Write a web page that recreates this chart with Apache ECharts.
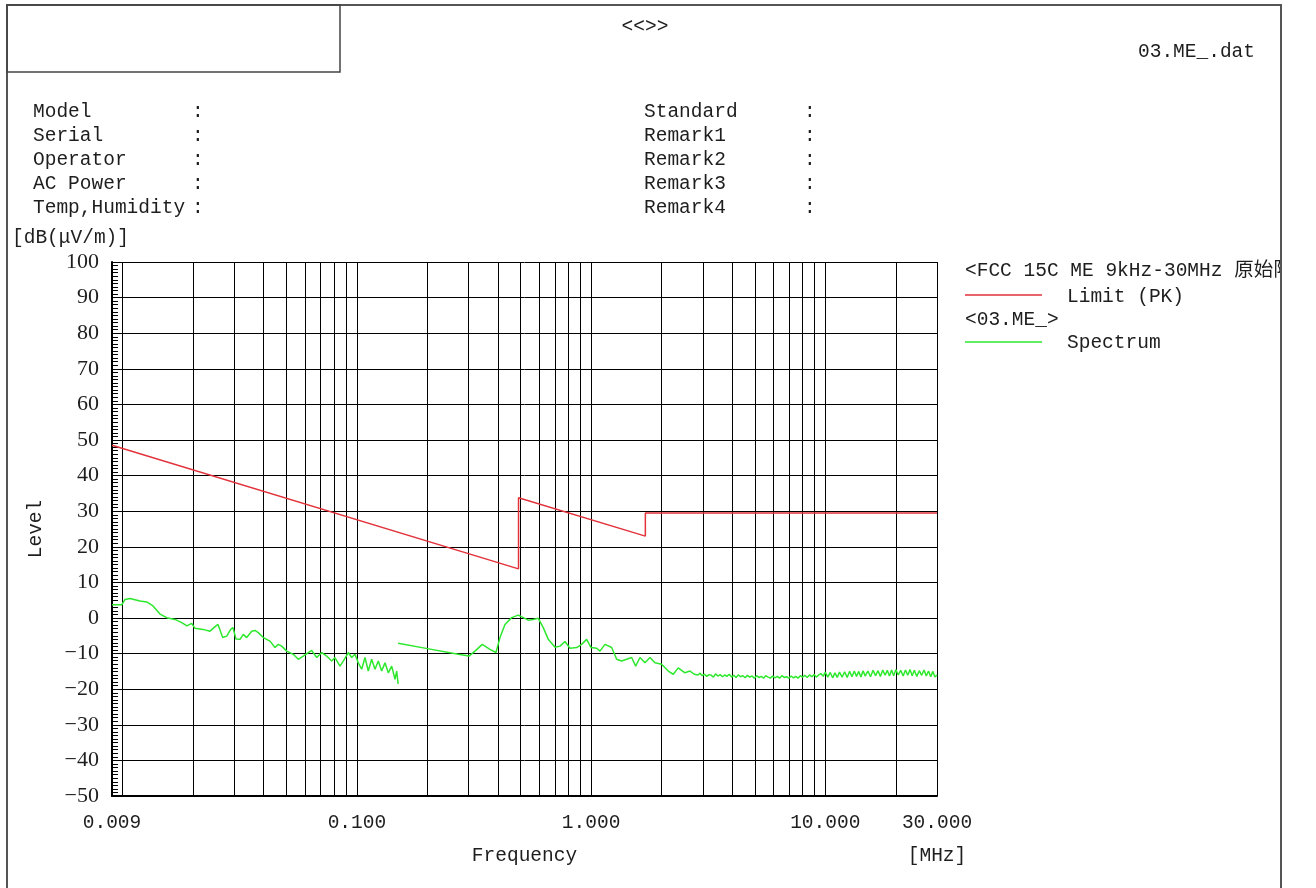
<!DOCTYPE html>
<html><head><meta charset="utf-8">
<script src="https://cdn.jsdelivr.net/npm/echarts@6/dist/echarts.min.js"></script>
<style>html,body{margin:0;padding:0;background:#fff}#c{width:1316px;height:888px}</style>
</head><body><div id="c"></div>
<script>
// ---- axis definitions ----
const xMin = 0.009, xMax = 30;
const yMin = -50, yMax = 100, yInterval = 10;
const xGridValues = [0.01,0.02,0.03,0.04,0.05,0.06,0.07,0.08,0.09,
  0.1,0.2,0.3,0.4,0.5,0.6,0.7,0.8,0.9,
  1,2,3,4,5,6,7,8,9,10,20,30];
const xLabelValues = [0.009, 0.1, 1, 10, 30];

// ---- Limit (PK) ----
const limitFreq  = [0.009, 0.49, 0.49, 1.705, 1.705, 30];
const limitLevel = [48.5, 13.8, 33.8, 23.0, 29.5, 29.5];

// ---- Spectrum, 9 kHz - 150 kHz ----
const specAFreq = [0.009,0.0099,0.01023,0.01074,0.01185,0.01266,0.01347,0.01443,0.01541,0.01672,
  0.01786,0.01881,0.0197,0.02035,0.02202,0.02359,0.02502,0.02552,0.02673,0.0278,
  0.02891,0.02957,0.03047,0.03168,0.03273,0.03384,0.03555,0.03672,0.03793,0.03983,
  0.04255,0.04469,0.04617,0.04774,0.05014,0.0535,0.0562,0.05903,0.062,0.06411,
  0.06734,0.07072,0.07429,0.07803,0.0806,0.08467,0.08747,0.09188,0.095,0.09814,
  0.10138,0.10481,0.10827,0.11184,0.11563,0.11947,0.12341,0.1276,0.13181,0.13616,
  0.14079,0.14543,0.14787,0.15];
const specALevel = [3.7,3.7,5.2,5.5,4.8,4.5,3.4,1.1,0.1,-0.4,
  -1.3,-2.2,-1.5,-2.9,-3.2,-3.7,-2.2,-1.8,-5.5,-5.1,
  -3.2,-2.7,-5.9,-6.0,-4.6,-5.5,-3.7,-3.5,-4.1,-5.5,
  -6.5,-8.3,-7.4,-7.9,-9.3,-10.2,-11.6,-10.7,-9.7,-9.1,
  -11.1,-9.7,-10.7,-12.1,-11.1,-13.5,-12.1,-9.7,-11.1,-10.2,
  -12.6,-14.4,-11.1,-14.9,-11.6,-14.4,-12.1,-14.9,-12.6,-15.4,
  -13.5,-17.2,-14.9,-18.5];

// ---- Spectrum, 150 kHz - 30 MHz ----
const specBFreq = [0.15,0.2,0.271,0.301,0.3193,0.3431,0.37,0.3925,0.4083,0.4289,
  0.458,0.4887,0.5134,0.5393,0.5664,0.5949,0.6249,0.6565,0.7011,0.7366,
  0.7737,0.8126,0.8679,0.9114,0.9574,1.0,1.0564,1.0913,1.1462,1.2245,
  1.286,1.351,1.419,1.4906,1.5504,1.6174,1.6984,1.7843,1.8739,2.0015,
  2.1357,2.2434,2.3564,2.5164,2.6438,2.7582,
  2.80,2.86,2.92,2.98,3.05,3.12,3.19,3.26,3.33,3.40,
  3.48,3.56,3.64,3.72,3.80,3.89,3.98,4.07,4.16,4.25,
  4.35,4.45,4.55,4.65,4.76,4.87,4.98,5.09,5.21,5.33,
  5.45,5.57,5.70,5.83,5.96,6.10,6.24,6.38,6.53,6.68,
  6.83,6.99,7.15,7.31,7.48,7.65,7.82,8.00,8.18,8.37,
  8.56,8.76,8.96,9.16,9.37,9.58,9.80,
  10.0,10.25,10.5,10.75,11.0,11.25,11.5,11.8,12.1,12.4,
  12.7,13.0,13.3,13.6,13.9,14.2,14.5,14.8,15.2,15.6,
  16.0,16.4,16.8,17.2,17.6,18.0,18.4,18.8,19.2,19.6,
  20.0,20.5,21.0,21.5,22.0,22.5,23.0,23.5,24.0,24.6,
  25.2,25.8,26.4,27.0,27.6,28.2,28.8,29.4,30.0];
const specBLevel = [-7.1,-8.6,-10.2,-10.7,-9.3,-7.4,-8.8,-9.7,-5.5,-1.8,
  0.1,0.8,0.1,-0.6,-0.4,-0.1,-2.7,-6.0,-8.2,-7.9,
  -6.6,-8.5,-8.3,-7.4,-6.0,-8.3,-8.5,-9.3,-7.4,-8.3,
  -11.6,-12.1,-11.6,-11.1,-13.5,-11.1,-12.6,-11.1,-12.6,-13.0,
  -14.9,-15.8,-14.0,-15.4,-14.9,-15.8,
  -15.6,-16.0,-15.5,-16.2,-15.8,-16.4,-15.9,-16.1,-16.6,-15.7,
  -16.3,-15.9,-16.5,-16.0,-16.4,-15.8,-16.6,-16.1,-16.7,-16.0,
  -16.5,-16.2,-16.8,-16.1,-16.6,-16.3,-16.9,-16.2,-16.7,-16.4,
  -16.9,-16.2,-16.6,-16.9,-16.3,-16.8,-16.4,-16.9,-16.2,-16.7,
  -16.5,-16.9,-16.3,-16.8,-16.4,-16.9,-16.2,-16.6,-16.1,-16.7,
  -16.0,-16.5,-15.9,-16.6,-16.0,-15.6,-16.4,
  -15.2,-16.6,-15.3,-16.8,-15.4,-16.7,-15.2,-16.6,-15.1,-16.7,
  -15.0,-16.5,-14.9,-16.4,-15.0,-16.6,-14.8,-16.3,-14.9,-16.5,
  -14.7,-16.2,-14.8,-16.4,-14.6,-16.1,-14.7,-16.3,-14.6,-16.2,
  -14.5,-16.0,-14.7,-16.3,-14.6,-16.1,-14.5,-16.2,-14.7,-16.4,
  -14.8,-16.1,-14.6,-16.3,-14.9,-16.5,-15.0,-16.6,-16.0];

// ---- texts ----
const infoLeft  = ['Model','Serial','Operator','AC Power','Temp,Humidity'];
const infoRight = ['Standard','Remark1','Remark2','Remark3','Remark4'];
const titleText = '<<>>';
const fileText = '03.ME_.dat';
const unitY = '[dB(μV/m)]';
const unitX = '[MHz]';
const legendLimitHead = '<FCC 15C ME 9kHz-30MHz 原始限值>';
const legendLimitName = 'Limit (PK)';
const legendSpecHead = '<03.ME_>';
const legendSpecName = 'Spectrum';

const MONO = '"Liberation Mono","Noto Sans CJK SC",monospace';
const SERIF = '"Liberation Serif","DejaVu Serif",serif';
const TXT = '#1e1e1e';
const RED = '#e2323a';
const GREEN = '#2ee82e';
const FS = 19.5;

const pair = (xs, ys) => xs.map((x, i) => [x, ys[i]]);

function txt(x, y, text, opts) {
  opts = opts || {};
  return {
    type: 'text', z: 100,
    x: x, y: y, rotation: opts.rotation || 0,
    style: {
      x: 0, y: 0, text: text,
      font: (opts.size || FS) + 'px ' + (opts.family || MONO),
      fill: opts.fill || TXT,
      align: opts.align || 'left', textAlign: opts.align || 'left',
      verticalAlign: 'middle', textVerticalAlign: 'middle'
    }
  };
}

const rowsY = [112, 136, 160, 184, 208];
const graphics = [];
infoLeft.forEach((t, i) => { graphics.push(txt(33, rowsY[i], t)); graphics.push(txt(192, rowsY[i], ':')); });
infoRight.forEach((t, i) => { graphics.push(txt(644, rowsY[i], t)); graphics.push(txt(804, rowsY[i], ':')); });
graphics.push(txt(645, 27, titleText, {align: 'center'}));
graphics.push(txt(1255, 52, fileText, {align: 'right'}));
graphics.push(txt(12, 238, unitY));
graphics.push(txt(937, 856, unitX, {align: 'center'}));
graphics.push(txt(965, 271, legendLimitHead));
graphics.push(txt(1067, 297, legendLimitName));
graphics.push(txt(965, 320, legendSpecHead));
graphics.push(txt(1067, 343, legendSpecName));
graphics.push({type: 'line', z: 100, shape: {x1: 965, y1: 295, x2: 1042, y2: 295}, style: {stroke: RED, lineWidth: 1.5}});
graphics.push({type: 'line', z: 100, shape: {x1: 965, y1: 342, x2: 1042, y2: 342}, style: {stroke: GREEN, lineWidth: 1.5}});
// white mask right of the frame (clips legend text)
graphics.push({type: 'rect', z: 110, shape: {x: 1282, y: 0, width: 40, height: 888}, style: {fill: '#fff'}});
// outer frame and title box
graphics.push({type: 'rect', z: 120, shape: {x: 7, y: 5, width: 1274, height: 900}, style: {fill: 'none', stroke: '#555', lineWidth: 2}});
graphics.push({type: 'rect', z: 120, shape: {x: 7, y: 5, width: 333, height: 67}, style: {fill: 'none', stroke: '#444', lineWidth: 1.5}});

const chart = echarts.init(document.getElementById('c'), null, {renderer: 'canvas'});
chart.setOption({
  animation: false,
  backgroundColor: '#fff',
  grid: {left: 112, top: 262, right: 379, bottom: 92, containLabel: false},
  xAxis: {
    type: 'log', logBase: 10, min: xMin, max: xMax,
    name: 'Frequency', nameLocation: 'middle', nameGap: 50,
    nameTextStyle: {fontFamily: MONO, fontSize: FS, color: TXT},
    axisLine: {show: true, onZero: false, lineStyle: {color: '#000', width: 2}},
    axisTick: {show: false, customValues: xGridValues},
    axisLabel: {
      customValues: xLabelValues, margin: 17,
      fontFamily: MONO, fontSize: FS, color: TXT,
      formatter: v => Number(v).toFixed(3)
    },
    splitLine: {show: true, lineStyle: {color: '#000', width: 1}},
    minorTick: {show: false}, minorSplitLine: {show: false}
  },
  yAxis: {
    type: 'value', min: yMin, max: yMax, interval: yInterval,
    name: 'Level', nameLocation: 'middle', nameGap: 66, nameRotate: 90,
    nameTextStyle: {fontFamily: MONO, fontSize: FS, color: TXT},
    axisLine: {show: true, onZero: false, lineStyle: {color: '#000', width: 2}},
    axisTick: {show: true, inside: true, length: 8, lineStyle: {color: '#000', width: 1}},
    minorTick: {show: true, splitNumber: 10, length: 6, lineStyle: {color: '#000', width: 1}},
    axisLabel: {margin: 13, fontFamily: SERIF, fontSize: 22, color: TXT,
      formatter: v => String(v).replace('-', '\u2212')},
    splitLine: {show: true, lineStyle: {color: '#000', width: 1}}
  },
  series: [
    {name: 'Limit (PK)', type: 'line', data: pair(limitFreq, limitLevel), showSymbol: false, symbol: 'none',
     lineStyle: {color: RED, width: 1.5}, z: 5},
    {name: 'Spectrum A', type: 'line', data: pair(specAFreq, specALevel), showSymbol: false, symbol: 'none',
     lineStyle: {color: GREEN, width: 1.5}, z: 4},
    {name: 'Spectrum B', type: 'line', data: pair(specBFreq, specBLevel), showSymbol: false, symbol: 'none',
     lineStyle: {color: GREEN, width: 1.5}, z: 4}
  ],
  graphic: {elements: graphics}
});
</script></body></html>
